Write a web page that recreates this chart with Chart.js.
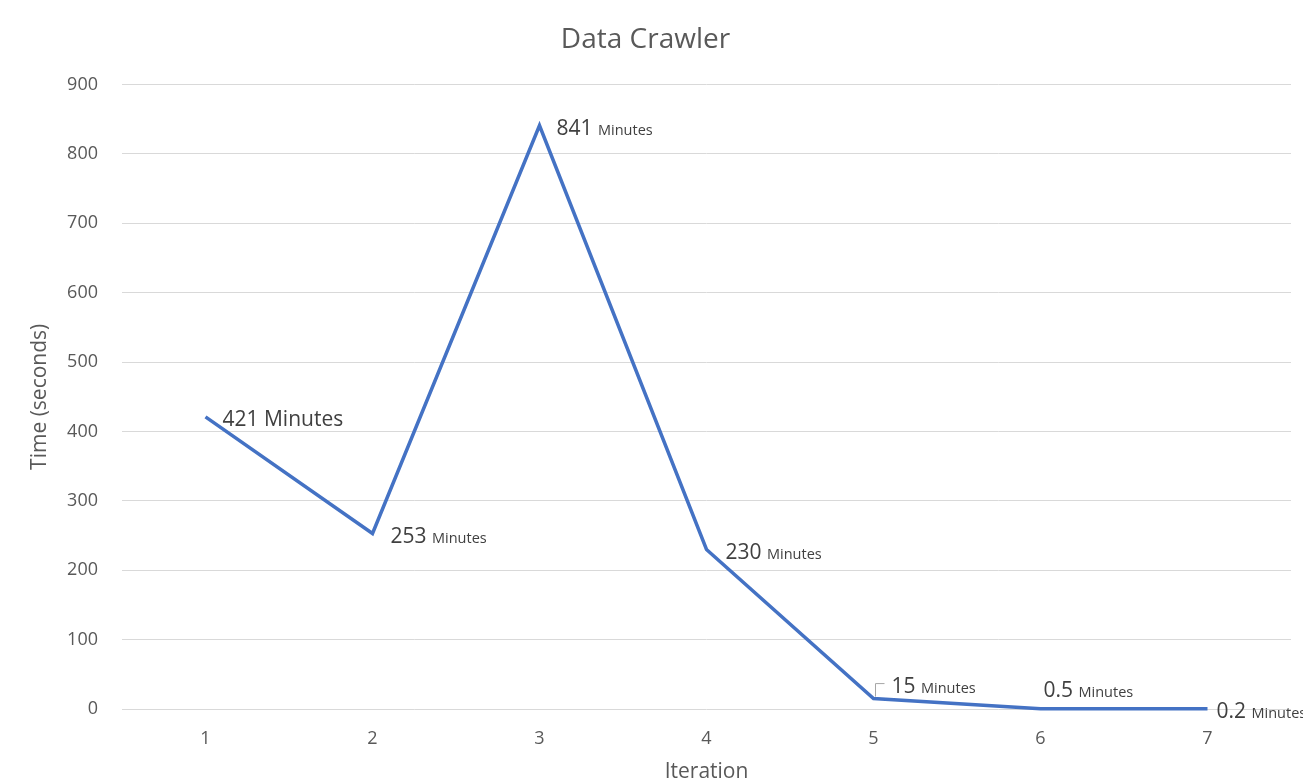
<!DOCTYPE html>
<html>
<head>
<meta charset="utf-8">
<title>Data Crawler</title>
<script src="https://cdn.jsdelivr.net/npm/chart.js@4/dist/chart.umd.min.js"></script>
<style>
  html, body { margin: 0; padding: 0; background: #fff; }
  #wrap { width: 1303px; height: 782px; }
</style>
</head>
<body>
<div id="wrap"><canvas id="graph"></canvas></div>
<script>
const iterations = ["1", "2", "3", "4", "5", "6", "7"];
const crawlTimes = [421, 253, 841, 230, 15, 0.5, 0.2];
const timeLabels = ["421", "253", "841", "230", "15", "0.5", "0.2"];
const unitText = "Minutes";

// where each label sits relative to its point (dx, dy), like excel's manual nudges
const labelNudge = [[17, 9], [18, 10], [17, 9], [19, 10], [18, -6], [3, -12], [9, 9]];

const FONT = "'Open Sans', sans-serif";

const minuteLabels = {
  id: "minuteLabels",
  afterDatasetsDraw(chart) {
    const ctx = chart.ctx;
    const meta = chart.getDatasetMeta(0);
    ctx.save();
    ctx.textBaseline = "alphabetic";
    ctx.textAlign = "left";
    meta.data.forEach((pt, i) => {
      const x = pt.x + labelNudge[i][0];
      const y = pt.y + labelNudge[i][1];
      ctx.fillStyle = "#404040";
      ctx.font = "21px " + FONT;
      const num = timeLabels[i] + " ";
      ctx.fillText(num, x, y);
      const w = ctx.measureText(num).width;
      // first label has the unit at full size
      ctx.font = (i === 0 ? "21px " : "14.5px ") + FONT;
      ctx.fillText(unitText, x + w, y);
      // leader line for the crowded 15 minutes label
      if (i === 4) {
        ctx.strokeStyle = "#a6a6a6";
        ctx.lineWidth = 1;
        ctx.beginPath();
        ctx.moveTo(pt.x + 2, pt.y - 2);
        ctx.lineTo(pt.x + 2, pt.y - 15);
        ctx.lineTo(pt.x + 11, pt.y - 15);
        ctx.stroke();
      }
    });
    ctx.restore();
  }
};

window.onload = () => {
  const ctx = document.getElementById("graph").getContext("2d");
  new Chart(ctx, {
    type: "line",
    data: {
      labels: iterations,
      datasets: [{
        label: "Time",
        data: crawlTimes,
        borderColor: "#4472c4",
        borderWidth: 3.5,
        pointRadius: 0,
        tension: 0,
        clip: false
      }]
    },
    options: {
      responsive: true,
      maintainAspectRatio: false,
      animation: false,
      layout: { padding: { left: 0, right: 12, top: 0, bottom: 0 } },
      plugins: {
        legend: { display: false },
        tooltip: { enabled: false },
        title: {
          display: true,
          text: "Data Crawler",
          color: "#595959",
          font: { family: FONT, size: 28, weight: "normal" },
          padding: { top: 23, bottom: 28 }
        }
      },
      scales: {
        x: {
          offset: true,
          grid: { display: false, drawTicks: false },
          border: { display: false },
          ticks: { color: "#595959", font: { family: FONT, size: 18 }, padding: 19 },
          title: { display: true, text: "Iteration", color: "#595959", font: { family: FONT, size: 21 }, padding: { top: 0, bottom: -3 } },
          afterFit(scale) { scale.height = 73; }
        },
        y: {
          min: 0,
          max: 900,
          grid: { color: "#d9d9d9", drawTicks: false },
          border: { display: false },
          ticks: { stepSize: 100, color: "#595959", font: { family: FONT, size: 18 }, padding: 24 },
          title: { display: true, text: "Time (seconds)", color: "#595959", font: { family: FONT, size: 21 }, padding: { top: 27, bottom: 0 } },
          afterFit(scale) { scale.width = 122; }
        }
      }
    },
    plugins: [minuteLabels]
  });
};
</script>
</body>
</html>
